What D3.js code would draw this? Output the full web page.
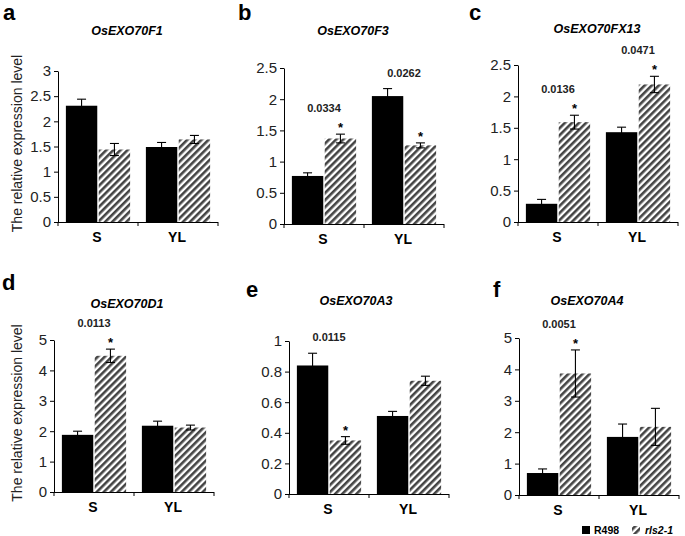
<!DOCTYPE html>
<html>
<head>
<meta charset="utf-8">
<script src="https://cdn.jsdelivr.net/npm/d3@7"></script>
<style>
  html, body { margin: 0; padding: 0; background: #fff; }
  svg { display: block; font-family: "Liberation Sans", Arial, sans-serif; }
</style>
</head>
<body>
<svg id="chart" width="685" height="536"></svg>
<script>
// ---------------- data ----------------
const categories = ["S", "YL"];
const seriesNames = ["R498", "rls2-1"];
const panelLetters = ["a", "b", "c", "d", "e", "f"];
const geneNames = ["OsEXO70F1", "OsEXO70F3", "OsEXO70FX13", "OsEXO70D1", "OsEXO70A3", "OsEXO70A4"];
const r498Values = [[2.31, 1.49], [0.77, 2.05], [0.29, 1.43], [1.88, 2.18], [0.84, 0.51], [0.70, 1.85]];
const r498Errors = [[0.13, 0.09], [0.05, 0.12], [0.07, 0.08], [0.12, 0.15], [0.08, 0.03], [0.13, 0.41]];
const rls2Values = [[1.44, 1.64], [1.37, 1.26], [1.59, 2.19], [4.48, 2.12], [0.35, 0.74], [3.87, 2.17]];
const rls2Errors = [[0.12, 0.08], [0.07, 0.04], [0.11, 0.13], [0.22, 0.08], [0.025, 0.03], [0.75, 0.59]];
const yMaxValues = [3, 2.5, 2.5, 5, 1, 5];
const yTickSteps = [0.5, 0.5, 0.5, 1, 0.2, 1];
const pValueLabels = [[null, null], ["0.0334", "0.0262"], ["0.0136", "0.0471"], ["0.0113", null], ["0.0115", null], ["0.0051", null]];
const yAxisTitle = "The relative expression level";

// ---------------- layout (pixels) ----------------
const layout = [
  { ax: 58,  y0: 222, yTop: 71,  letterX: 3,   letterY: 20,  titleX: 127, titleY: 35,  ylab: true },
  { ax: 284, y0: 224, yTop: 68,  letterX: 238, letterY: 20,  titleX: 353, titleY: 35,  ylab: false },
  { ax: 518, y0: 222, yTop: 65,  letterX: 469, letterY: 20,  titleX: 597, titleY: 33,  ylab: false },
  { ax: 54,  y0: 492, yTop: 340, letterX: 2,   letterY: 290, titleX: 127, titleY: 308, ylab: true },
  { ax: 289, y0: 494, yTop: 341, letterX: 246, letterY: 297, titleX: 356, titleY: 305, ylab: false },
  { ax: 519, y0: 495, yTop: 338, letterX: 493, letterY: 297, titleX: 587, titleY: 305, ylab: false }
];
const plotWidth = 160;

const svg = d3.select("#chart");
const defs = svg.append("defs");
const pat = defs.append("pattern")
  .attr("id", "hatch")
  .attr("patternUnits", "userSpaceOnUse")
  .attr("width", 5).attr("height", 5)
  .attr("patternTransform", "rotate(45)");
pat.append("rect").attr("width", 5).attr("height", 5).attr("fill", "#fff");
pat.append("rect").attr("width", 2.6).attr("height", 5).attr("fill", "#444");

layout.forEach((L, i) => {
  const g = svg.append("g");
  const y = d3.scaleLinear().domain([0, yMaxValues[i]]).range([L.y0, L.yTop]);
  const x0 = d3.scaleBand().domain(categories).range([L.ax, L.ax + plotWidth]);
  const x1 = d3.scaleBand().domain(seriesNames).range([0, x0.bandwidth()])
    .paddingOuter(0.24).paddingInner(0.045);

  // y axis
  const ticks = d3.range(0, yMaxValues[i] + yTickSteps[i] / 2, yTickSteps[i]);
  const yAxis = d3.axisLeft(y).tickValues(ticks).tickSize(4).tickSizeOuter(0)
    .tickFormat(d => +d.toFixed(2) + "");
  const yg = g.append("g").attr("transform", `translate(${L.ax},0)`).call(yAxis);
  yg.selectAll("text").attr("font-size", 15).attr("fill", "#222")
    .attr("font-family", '"Liberation Sans", Arial, sans-serif').attr("x", -7);
  yg.selectAll("line, path").attr("stroke", "#000");

  // bars
  categories.forEach((c, ci) => {
    const vals = [r498Values[i][ci], rls2Values[i][ci]];
    const errs = [r498Errors[i][ci], rls2Errors[i][ci]];
    seriesNames.forEach((s, si) => {
      const bx = x0(c) + x1(s);
      const bw = x1.bandwidth();
      g.append("rect")
        .attr("x", bx).attr("width", bw)
        .attr("y", y(vals[si])).attr("height", y(0) - y(vals[si]))
        .attr("fill", si === 0 ? "#000" : "url(#hatch)");
      const cx = bx + bw / 2;
      const top = y(vals[si] + errs[si]);
      const bot = y(vals[si] - errs[si]);
      const eg = g.append("g").attr("stroke", "#000").attr("stroke-width", 1.1);
      eg.append("line").attr("x1", cx).attr("x2", cx).attr("y1", top).attr("y2", bot);
      eg.append("line").attr("x1", cx - 4.5).attr("x2", cx + 4.5).attr("y1", top).attr("y2", top);
      eg.append("line").attr("x1", cx - 4.5).attr("x2", cx + 4.5).attr("y1", bot).attr("y2", bot);
    });
    // significance annotations
    const pl = pValueLabels[i][ci];
    if (pl) {
      const hatchTop = y(vals[1] + errs[1]);
      const maxTop = Math.min(y(vals[0] + errs[0]), hatchTop);
      const starCY = hatchTop - 10;
      const labCY = Math.min(starCY - 16, maxTop - 16);
      g.append("text")
        .attr("x", x0(c) + x1(seriesNames[1]) + x1.bandwidth() / 2)
        .attr("y", starCY + 8)
        .attr("text-anchor", "middle").attr("font-size", 13).attr("font-weight", "bold")
        .text("*");
      g.append("text")
        .attr("x", x0(c) + x0.bandwidth() / 2)
        .attr("y", labCY + 4)
        .attr("text-anchor", "middle").attr("font-size", 11).attr("font-weight", "bold")
        .attr("fill", "#222")
        .text(pl);
    }
  });

  // x axis
  const xg = g.append("g").attr("stroke", "#000").attr("stroke-width", 1);
  xg.append("line").attr("x1", L.ax).attr("x2", L.ax + plotWidth).attr("y1", L.y0 + 0.5).attr("y2", L.y0 + 0.5);
  [L.ax, x0("YL"), L.ax + plotWidth].forEach(t => {
    xg.append("line").attr("x1", t).attr("x2", t).attr("y1", L.y0).attr("y2", L.y0 + 4);
  });
  categories.forEach(c => {
    g.append("text")
      .attr("x", x0(c) + x0.bandwidth() / 2 - 1)
      .attr("y", L.y0 + 20)
      .attr("text-anchor", "middle").attr("font-size", 14).attr("font-weight", "bold")
      .text(c);
  });

  // title & letter
  g.append("text").attr("x", L.titleX).attr("y", L.titleY)
    .attr("text-anchor", "middle").attr("font-size", 12.5).attr("font-weight", "bold")
    .attr("font-style", "italic").text(geneNames[i]);
  g.append("text").attr("x", L.letterX).attr("y", L.letterY)
    .attr("font-size", 22).attr("font-weight", "bold").text(panelLetters[i]);

  if (L.ylab) {
    g.append("text")
      .attr("transform", `translate(17,${(L.y0 + L.yTop) / 2 - 3}) rotate(-90)`)
      .attr("dy", "0.35em")
      .attr("text-anchor", "middle").attr("font-size", 14).attr("fill", "#222")
      .text(yAxisTitle);
  }
});

// legend
const lg = svg.append("g");
lg.append("rect").attr("x", 582).attr("y", 526).attr("width", 8).attr("height", 8).attr("fill", "#000");
lg.append("text").attr("x", 594).attr("y", 534).attr("font-size", 10.5).attr("font-weight", "bold").text(seriesNames[0]);
lg.append("rect").attr("x", 632).attr("y", 526).attr("width", 8).attr("height", 8).attr("fill", "url(#hatch)");
lg.append("text").attr("x", 645).attr("y", 534).attr("font-size", 10.5).attr("font-weight", "bold")
  .attr("font-style", "italic").text(seriesNames[1]);
</script>
</body>
</html>
